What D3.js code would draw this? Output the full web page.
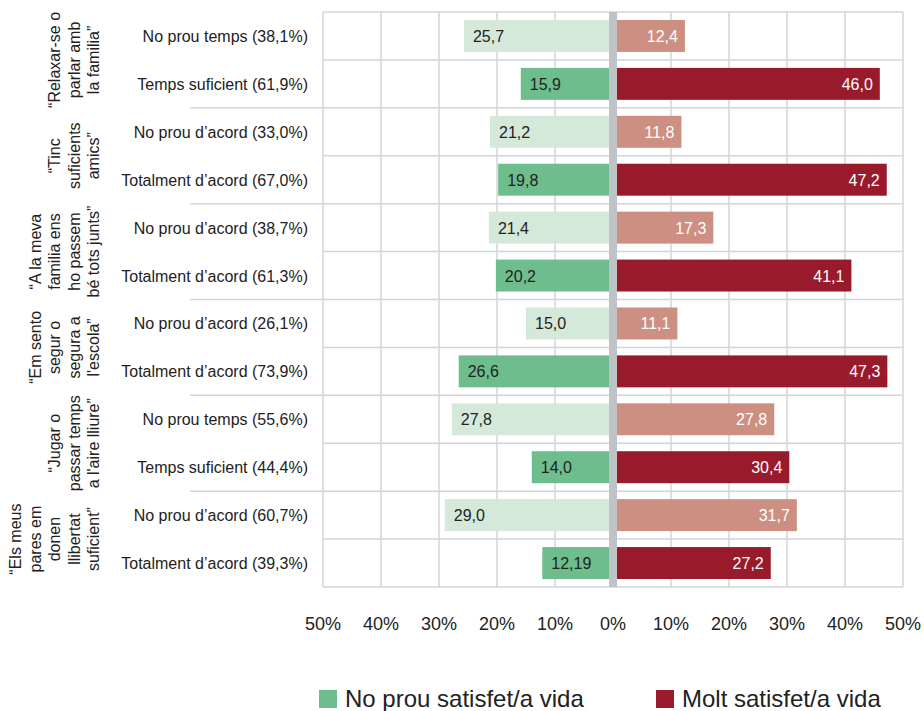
<!DOCTYPE html>
<html>
<head>
<meta charset="utf-8">
<script src="https://cdn.jsdelivr.net/npm/d3@7.9.0/dist/d3.min.js"></script>
<style>
  html, body { margin: 0; padding: 0; background: #fff; }
  svg { display: block; font-family: "Liberation Sans", Arial, sans-serif; }
</style>
</head>
<body>
<svg id="chart" width="924" height="711"></svg>
<script>
// Group titles (one entry per line of the rotated label)
const groupLines = [
  ['“Relaxar-se o', 'parlar amb', 'la familia”'],
  ['“Tinc', 'suficients', 'amics”'],
  ['“A la meva', 'familia ens', 'ho passem', 'bé tots junts”'],
  ['“Em sento', 'segur o', 'segura a', "l'escola”"],
  ['“Jugar o', 'passar temps', "a l'aire lliure”"],
  ['“Els meus', 'pares em', 'donen', 'llibertat', 'suficient”']
];

const categories = [
  'No prou temps (38,1%)', 'Temps suficient (61,9%)',
  'No prou d’acord (33,0%)', 'Totalment d’acord (67,0%)',
  'No prou d’acord (38,7%)', 'Totalment d’acord (61,3%)',
  'No prou d’acord (26,1%)', 'Totalment d’acord (73,9%)',
  'No prou temps (55,6%)', 'Temps suficient (44,4%)',
  'No prou d’acord (60,7%)', 'Totalment d’acord (39,3%)'
];

const notSatisfied = [25.7, 15.9, 21.2, 19.8, 21.4, 20.2, 15.0, 26.6, 27.8, 14.0, 29.0, 12.19];
const verySatisfied = [12.4, 46.0, 11.8, 47.2, 17.3, 41.1, 11.1, 47.3, 27.8, 30.4, 31.7, 27.2];

const ticks = [-50, -40, -30, -20, -10, 0, 10, 20, 30, 40, 50];
const legendLabels = ['No prou satisfet/a vida', 'Molt satisfet/a vida'];

const colors = {
  greenLight: '#d4e9d9',
  green: '#6dbe8c',
  redLight: '#cd8f81',
  red: '#981a2b',
  grid: '#d2d5d8',
  divider: '#bfc3c6',
  text: '#222'
};

const plot = { left: 323, right: 903, top: 12, bottom: 587 };

const svg = d3.select('#chart');

const x = d3.scaleLinear().domain([-50, 50]).range([plot.left, plot.right]);
const y = d3.scaleBand()
  .domain(d3.range(categories.length))
  .range([plot.top, plot.bottom])
  .paddingInner(1 / 3)
  .paddingOuter(1 / 6);

const step = y.step();

const fmt = (v) => {
  const tenth = Math.abs(v * 10 - Math.round(v * 10)) < 1e-9;
  return (tenth ? v.toFixed(1) : String(v)).replace('.', ',');
};

const rows = categories.map((label, i) => ({
  i,
  label,
  left: notSatisfied[i],
  right: verySatisfied[i],
  first: i % 2 === 0
}));

// grid
const grid = svg.append('g').attr('stroke', colors.grid).attr('stroke-width', 1.5);

grid.selectAll('line.v')
  .data(ticks.filter((t) => t !== 0))
  .join('line')
  .attr('x1', (d) => x(d)).attr('x2', (d) => x(d))
  .attr('y1', plot.top).attr('y2', plot.bottom);

const boundaries = d3.range(categories.length + 1);
grid.selectAll('line.h')
  .data(boundaries)
  .join('line')
  .attr('x1', (d) => (d % 2 === 0 && d > 0 && d < categories.length ? 190 : plot.left))
  .attr('x2', plot.right)
  .attr('y1', (d) => plot.top + d * step)
  .attr('y2', (d) => plot.top + d * step);

// bars
svg.append('g').selectAll('rect')
  .data(rows)
  .join('rect')
  .attr('x', (d) => x(-d.left))
  .attr('width', (d) => x(0) - x(-d.left))
  .attr('y', (d) => y(d.i))
  .attr('height', y.bandwidth())
  .attr('fill', (d) => (d.first ? colors.greenLight : colors.green));

svg.append('g').selectAll('rect')
  .data(rows)
  .join('rect')
  .attr('x', x(0))
  .attr('width', (d) => x(d.right) - x(0))
  .attr('y', (d) => y(d.i))
  .attr('height', y.bandwidth())
  .attr('fill', (d) => (d.first ? colors.redLight : colors.red));

// center divider
svg.append('rect')
  .attr('x', x(0) - 4)
  .attr('width', 8)
  .attr('y', plot.top)
  .attr('height', plot.bottom - plot.top)
  .attr('fill', colors.divider);

// value labels
svg.append('g').selectAll('text')
  .data(rows)
  .join('text')
  .attr('x', (d) => x(-d.left) + 9)
  .attr('y', (d) => y(d.i) + y.bandwidth() / 2 + 6)
  .attr('font-size', 16)
  .attr('fill', colors.text)
  .text((d) => fmt(d.left));

svg.append('g').selectAll('text')
  .data(rows)
  .join('text')
  .attr('x', (d) => x(d.right) - 7)
  .attr('y', (d) => y(d.i) + y.bandwidth() / 2 + 6)
  .attr('text-anchor', 'end')
  .attr('font-size', 16)
  .attr('fill', '#fff')
  .text((d) => fmt(d.right));

// category labels
svg.append('g').selectAll('text')
  .data(rows)
  .join('text')
  .attr('x', 308)
  .attr('y', (d) => y(d.i) + y.bandwidth() / 2 + 6)
  .attr('text-anchor', 'end')
  .attr('font-size', 16)
  .attr('fill', colors.text)
  .text((d) => d.label);

// group labels (rotated)
const groupG = svg.append('g').selectAll('g')
  .data(groupLines)
  .join('g')
  .attr('transform', (d, gi) => `translate(0,${plot.top + (gi * 2 + 1) * step}) rotate(-90)`);

groupG.each(function (lines) {
  const n = lines.length;
  d3.select(this).selectAll('text')
    .data(lines)
    .join('text')
    .attr('x', 0)
    .attr('y', (d, i) => 99 - (n - 1 - i) * 19.5)
    .attr('text-anchor', 'middle')
    .attr('font-size', 16)
    .attr('fill', colors.text)
    .text((d) => d);
});

// x axis labels
svg.append('g').selectAll('text')
  .data(ticks)
  .join('text')
  .attr('x', (d) => x(d))
  .attr('y', 630)
  .attr('text-anchor', 'middle')
  .attr('font-size', 18)
  .attr('fill', colors.text)
  .text((d) => `${Math.abs(d)}%`);

// legend
const legendX = [319, 656];
const legendColors = [colors.green, colors.red];
const legend = svg.append('g').selectAll('g')
  .data(legendLabels)
  .join('g')
  .attr('transform', (d, i) => `translate(${legendX[i]},690)`);

legend.append('rect')
  .attr('width', 18).attr('height', 18)
  .attr('fill', (d, i) => legendColors[i]);

legend.append('text')
  .attr('x', 26)
  .attr('y', 17)
  .attr('font-size', 24)
  .attr('fill', colors.text)
  .text((d) => d);
</script>
</body>
</html>
